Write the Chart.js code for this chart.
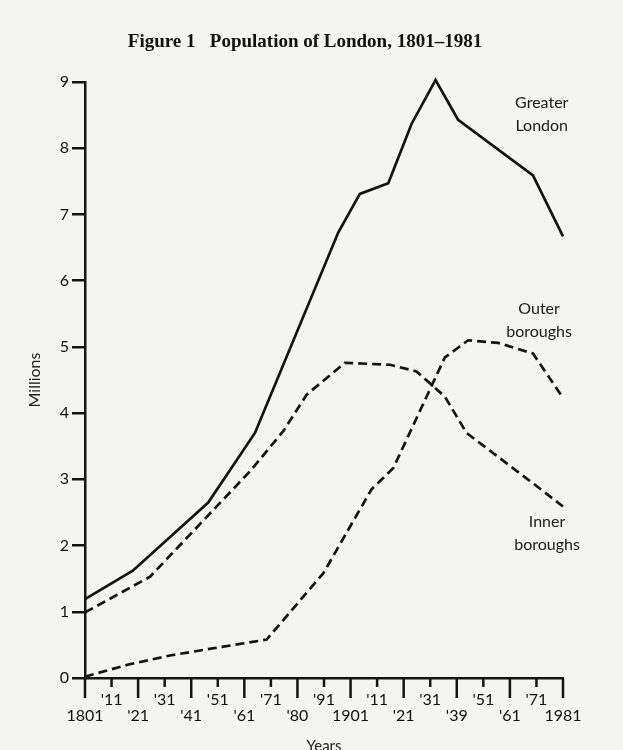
<!DOCTYPE html>
<html>
<head>
<meta charset="utf-8">
<script src="https://cdn.jsdelivr.net/npm/chart.js@4.4.1/dist/chart.umd.min.js"></script>
<style>
  html, body { margin: 0; padding: 0; background: #f4f4f3; }
  #wrap { width: 623px; height: 750px; }
</style>
</head>
<body>
<div id="wrap"><canvas id="london" width="623" height="750"></canvas></div>
<script>
// decade ticks, as printed under the axis
const tickLabels = ['1801', "'11", "'21", "'31", "'41", "'51", "'61", "'71", "'80", "'91",
                    '1901', "'11", "'21", "'31", "'39", "'51", "'61", "'71", '1981'];
const yTicks = [0, 1, 2, 3, 4, 5, 6, 7, 8, 9];

// x = position along the tick row (0 = 1801 ... 18 = 1981), y = millions
const greaterX = [0, 1.80, 4.64, 6.40, 9.54, 10.35, 11.42, 12.30, 13.20, 14.05, 16.87, 18];
const greaterY = [1.19, 1.62, 2.65, 3.70, 6.73, 7.31, 7.47, 8.37, 9.03, 8.43, 7.59, 6.67];

const innerX = [0, 2.45, 6.21, 7.47, 8.35, 9.79, 11.48, 12.48, 13.55, 14.37, 16.87, 18];
const innerY = [0.99, 1.53, 3.12, 3.73, 4.28, 4.76, 4.73, 4.63, 4.25, 3.70, 2.94, 2.59];

const outerX = [0, 1.6, 3.2, 5.0, 6.84, 8.97, 10.79, 11.61, 13.55, 14.43, 15.56, 16.87, 18];
const outerY = [0.02, 0.20, 0.34, 0.46, 0.58, 1.58, 2.85, 3.17, 4.84, 5.10, 5.06, 4.90, 4.23];

const ink = '#141414';
const sans = 'Lato, "DejaVu Sans", sans-serif';
const pts = (xs, ys) => xs.map((x, i) => ({ x, y: ys[i] }));

const line = (label, data, dash) => ({
  label, data, borderColor: ink, borderWidth: 2.7, borderDash: dash,
  pointRadius: 0, tension: 0, fill: false, clip: false
});

// tick marks of two lengths, series names and the figure title
const decor = {
  id: 'decor',
  afterDraw(chart) {
    const { ctx, scales: { x, y } } = chart;
    const base = y.getPixelForValue(0);
    ctx.save();
    ctx.strokeStyle = ink;
    ctx.lineWidth = 2.5;
    tickLabels.forEach((t, i) => {
      const px = x.getPixelForValue(i);
      ctx.beginPath();
      ctx.moveTo(px, base);
      ctx.lineTo(px, base + (i % 2 ? 9 : 20));
      ctx.stroke();
    });

    ctx.fillStyle = '#1a1a1a';
    ctx.textAlign = 'center';
    ctx.textBaseline = 'middle';
    ctx.font = '16px ' + sans;
    const name = (lines, xv, yv) => {
      lines.forEach((s, k) => ctx.fillText(s, x.getPixelForValue(xv), y.getPixelForValue(yv) + k * 23));
    };
    name(['Greater', 'London'], 17.2, 8.68);
    name(['Outer', 'boroughs'], 17.1, 5.57);
    name(['Inner', 'boroughs'], 17.4, 2.36);

    ctx.fillStyle = '#111';
    ctx.font = 'bold 19px "Liberation Serif", "DejaVu Serif", serif';
    ctx.fillText('Figure 1   Population of London, 1801\u20131981', 305, 42);
    ctx.restore();
  }
};

new Chart(document.getElementById('london'), {
  type: 'line',
  data: {
    datasets: [
      line('Greater London', pts(greaterX, greaterY), []),
      line('Inner boroughs', pts(innerX, innerY), [9, 5]),
      line('Outer boroughs', pts(outerX, outerY), [9, 5])
    ]
  },
  options: {
    responsive: false,
    animation: false,
    layout: { padding: { top: 82, right: 60, bottom: 0, left: 0 } },
    plugins: { legend: { display: false }, tooltip: { enabled: false }, title: { display: false } },
    scales: {
      x: {
        type: 'linear', min: 0, max: 18, offset: false,
        afterFit: (s) => { s.height = 72; },
        grid: { display: false, drawTicks: false },
        border: { color: ink, width: 2.5 },
        ticks: {
          stepSize: 1, autoSkip: false, maxRotation: 0, padding: 13,
          color: '#111', font: { family: sans, size: 16, lineHeight: 1.05 },
          callback: (v) => {
            const i = Math.round(v);
            return i % 2 ? [tickLabels[i], ''] : ['', tickLabels[i]];
          }
        },
        title: { display: true, text: 'Years', color: '#222', font: { family: sans, size: 15, lineHeight: 1 },
                 padding: { top: 0, bottom: -4 } }
      },
      y: {
        min: 0, max: 9,
        afterFit: (s) => { s.width = 85; },
        afterBuildTicks: (s) => { s.ticks = yTicks.map(v => ({ value: v })); },
        grid: { drawOnChartArea: false, drawTicks: true, tickLength: 13, color: ink, lineWidth: 2.5 },
        border: { color: ink, width: 2.5 },
        ticks: { padding: 3, color: '#111', font: { family: sans, size: 16 } },
        title: { display: true, text: 'Millions', color: '#222', font: { family: sans, size: 16 }, padding: { top: 25 } }
      }
    }
  },
  plugins: [decor]
});
</script>
</body>
</html>
